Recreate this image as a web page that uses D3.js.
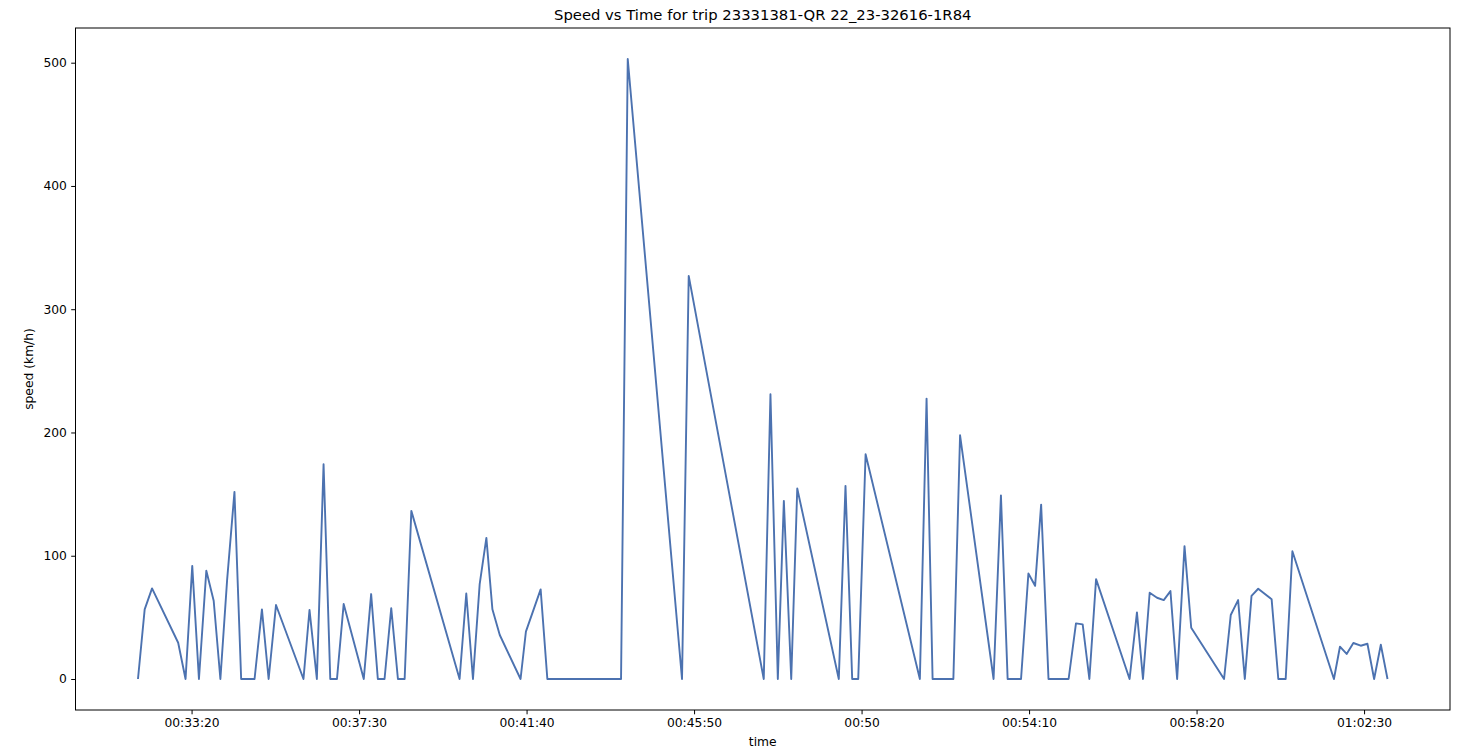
<!DOCTYPE html>
<meta charset="utf-8">
<script src="https://d3js.org/d3.v7.min.js"></script>
<style>
  body { margin: 0; background: #fff; }
  text { font-family: "DejaVu Sans", sans-serif; fill: #000; }
</style>
<div id="my_dataviz"></div>
<script>

// elapsed time of each sample, in seconds
var timeSeconds = [
  1920,1930,1941,1980,1991,2001,2011,2022,2033,2043,
  2053,2064,2074,2094,2105,2115,2126,2167,2176,2187,
  2197,2207,2217,2227,2257,2268,2278,2288,2298,2308,
  2318,2328,2400,2410,2420,2430,2440,2449,2460,2491,
  2499,2521,2531,2641,2651,2732,2742,2854,2864,2875,
  2884,2895,2904,2966,2976,2986,2995,3006,3087,3097,
  3106,3137,3147,3197,3208,3218,3238,3249,3259,3268,
  3279,3309,3320,3330,3340,3350,3400,3411,3420,3430,
  3441,3451,3461,3471,3482,3492,3541,3551,3562,3572,
  3582,3592,3612,3622,3633,3643,3705,3714,3724,3734,
  3745,3755,3765,3775,3785
];

// speed at each sample (km/h)
var speedKmh = [
  0,56.5,73.5,29.4,0,91.8,0,87.8,63.5,0,
  80,151.8,0,0,56.5,0,60,0,56,0,
  174.2,0,0,60.8,0,68.9,0,0,57.5,0,
  0,136.4,0,69.4,0,77,114.5,56.5,35.7,0,
  38.4,72.7,0,0,503,0,327,0,231,0,
  144.5,0,154.5,0,156.7,0,0,182.3,0,227.5,
  0,0,197.7,0,149,0,0,85.6,75.6,141.5,
  0,0,45.1,44.3,0,81,0,54,0,70,
  65.9,64,71.3,0,107.8,41.6,0,51.9,64,0,
  67.5,73.2,64.8,0,0,103.7,0,26.2,20.3,29.2,
  27,28.6,0,27.8,0
];

var xTickSeconds = [2000, 2250, 2500, 2750, 3000, 3250, 3500, 3750];
var xTickLabels = ["00:33:20","00:37:30","00:41:40","00:45:50","00:50","00:54:10","00:58:20","01:02:30"];
var yTicks = [0, 100, 200, 300, 400, 500];

var data = timeSeconds.map(function(t, i) { return {time: t, value: speedKmh[i]}; });

var margin = {top: 28, right: 10, bottom: 40, left: 75.5},
    width = 1460 - margin.left - margin.right,
    height = 750 - margin.top - margin.bottom;

var svg = d3.select("#my_dataviz")
  .append("svg")
    .attr("width", 1460)
    .attr("height", 750)
  .append("g")
    .attr("transform", "translate(" + margin.left + "," + margin.top + ")");

// matplotlib-like 5% padding on both axes
var tExt = d3.extent(timeSeconds);
var tPad = (tExt[1] - tExt[0]) * 0.05;
var x = d3.scaleLinear()
  .domain([tExt[0] - tPad, tExt[1] + tPad])
  .range([0, width]);

var vMax = d3.max(speedKmh);
var vPad = vMax * 0.05;
var y = d3.scaleLinear()
  .domain([-vPad, vMax + vPad])
  .range([height, 0]);

// x axis
var xAxis = svg.append("g")
  .attr("transform", "translate(0," + height + ")")
  .call(d3.axisBottom(x)
    .tickValues(xTickSeconds)
    .tickFormat(function(d, i) { return xTickLabels[i]; })
    .tickSize(4.3)
    .tickPadding(4.3));

// y axis
var yAxis = svg.append("g")
  .call(d3.axisLeft(y)
    .tickValues(yTicks)
    .tickSize(4.3)
    .tickPadding(4.3));

[xAxis, yAxis].forEach(function(a) {
  a.select(".domain").remove();
  a.selectAll("line").attr("stroke", "#000").attr("stroke-width", 1);
  a.selectAll("text").style("font-size", "12.3px").attr("fill", "#000");
});

// frame
svg.append("rect")
  .attr("x", 0).attr("y", 0)
  .attr("width", width).attr("height", height)
  .attr("fill", "none")
  .attr("stroke", "#000")
  .attr("stroke-width", 1);

// the line
var line = d3.line()
  .x(function(d) { return x(d.time); })
  .y(function(d) { return y(d.value); });

svg.append("path")
  .datum(data)
  .attr("d", line)
  .attr("fill", "none")
  .attr("stroke", "#4c72b0")
  .attr("stroke-width", 1.9)
  .attr("stroke-linejoin", "round");

// title and labels
svg.append("text")
  .attr("x", width / 2)
  .attr("y", -8)
  .attr("text-anchor", "middle")
  .style("font-size", "14.8px")
  .text("Speed vs Time for trip 23331381-QR 22_23-32616-1R84");

svg.append("text")
  .attr("x", width / 2)
  .attr("y", height + 36)
  .attr("text-anchor", "middle")
  .style("font-size", "12.3px")
  .text("time");

svg.append("text")
  .attr("transform", "translate(" + (-43) + "," + (height / 2) + ") rotate(-90)")
  .attr("text-anchor", "middle")
  .style("font-size", "12.3px")
  .text("speed (km/h)");

</script>
